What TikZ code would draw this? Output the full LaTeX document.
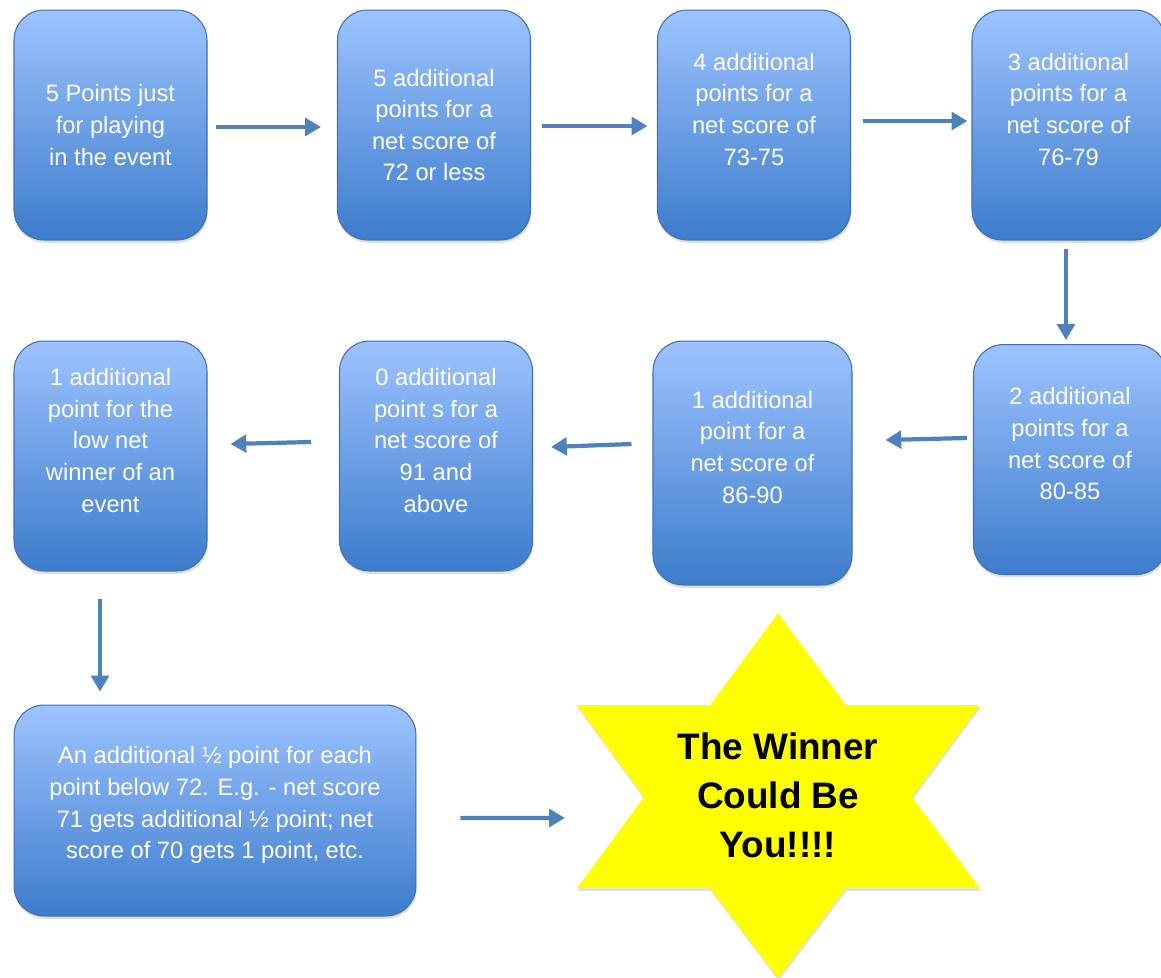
\documentclass[tikz,border=0pt]{standalone}
\usepackage{fontspec}
\setmainfont{Liberation Sans}
\usetikzlibrary{positioning,shadows,arrows.meta,calc}
\definecolor{boxtop}{RGB}{157,195,255}
\definecolor{boxbot}{RGB}{61,124,204}
\definecolor{boxline}{RGB}{64,112,176}
\definecolor{flowblue}{RGB}{79,129,189}
\definecolor{staryellow}{RGB}{255,255,0}

\begin{document}
\begin{tikzpicture}[x=0.02cm,y=-0.02cm,
    pointbox/.style={draw=boxline,line width=0.6pt,rounded corners=0.6cm,
      top color=boxtop,bottom color=boxbot,text=white,align=center,
      font=\fontsize{13.5}{18}\selectfont,minimum width=3.86cm,minimum height=4.6cm,
      drop shadow={opacity=0.25,shadow xshift=0.4pt,shadow yshift=-1.6pt}},
    flow/.style={draw=flowblue,line width=2.4pt,-{Triangle[length=9pt,width=10pt]}}]
  \useasboundingbox (0,0) rectangle (1161,978);
  \node[pointbox] (five) at (110.5,125) {5 Points just\\for playing\\in the event};
  \node[pointbox] (seventytwo) at (434,125) {5 additional\\points for a\\net score of\\72 or less};
  \node[pointbox] (seventythree) at (754,125) {4 additional\\points for a\\net score of\\73-75\\~};
  \node[pointbox] (seventysix) at (1068.5,125) {3 additional\\points for a\\net score of\\76-79\\~};
  \node[pointbox] (eighty) at (1070,459.5) {2 additional\\points for a\\net score of\\80-85\\~};
  \node[pointbox,minimum width=3.98cm,minimum height=4.88cm] (eightysix) at (752.5,463) {1 additional\\point for a\\net score of\\86-90\\~};
  \node[pointbox] (ninetyone) at (436,456) {0 additional\\point s for a\\net score of\\91 and\\above\\~};
  \node[pointbox] (lownet) at (110.5,456) {1 additional\\point for the\\low net\\winner of an\\event\\~};
  \node[pointbox,minimum width=8.04cm,minimum height=4.22cm] (half) at (215,810.5) {An additional ½ point for each\\point below 72. E.g. - net score\\71 gets additional ½ point; net\\score of 70 gets 1 point, etc.\\[-9pt]~};
  \fill[staryellow,drop shadow={opacity=0.25,shadow xshift=0.4pt,shadow yshift=-1.6pt}]
    (778,613) -- (846,705) -- (980,705) -- (912,797) -- (980,888) -- (846,888) -- (778,978)
    -- (710,888) -- (577,888) -- (644,797) -- (577,705) -- (710,705) -- cycle;
  \node[font=\bfseries\fontsize{21}{27.8}\selectfont,align=center] (winner) at (778,795) {The Winner\\Could Be\\You!!!!};
  \coordinate (starin) at (565,818);
  \draw[flow] ([shift={(8,2)}]five.east) -- ([shift={(-16,2)}]seventytwo.west);
  \draw[flow] ([shift={(10.5,1)}]seventytwo.east) -- ([shift={(-9.5,1)}]seventythree.west);
  \draw[flow] ([shift={(11.5,-4)}]seventythree.east) -- ([shift={(-4,-4)}]seventysix.west);
  \draw[flow] ([shift={(-2.5,8)}]seventysix.south) -- ([shift={(-4,-4)}]eighty.north);
  \draw[flow] ([shift={(-6,-21.5)}]eighty.west) -- ([shift={(33,-23)}]eightysix.east);
  \draw[flow] ([shift={(-21,-19)}]eightysix.west) -- ([shift={(18,-9)}]ninetyone.east);
  \draw[flow] ([shift={(-28,-14)}]ninetyone.west) -- ([shift={(23,-12)}]lownet.east);
  \draw[flow] ([shift={(-10.5,27)}]lownet.south) -- ([shift={(-10.5,-13)}]lownet.south |- half.north);
  \draw[flow] ([shift={(44,7.5)}]half.east) -- (starin);
\end{tikzpicture}
\end{document}
